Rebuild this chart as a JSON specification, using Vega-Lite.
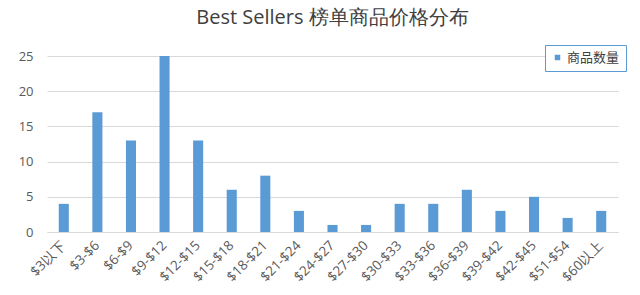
{
  "$schema": "https://vega.github.io/schema/vega-lite/v6.json",
  "autosize": "none",
  "width": 571,
  "height": 176,
  "padding": {"left": 47, "top": 56, "right": 22, "bottom": 63},
  "background": "white",
  "title": {
    "text": "Best Sellers 榜单商品价格分布",
    "anchor": "middle",
    "frame": "group",
    "offset": 17,
    "font": "Open Sans",
    "fontSize": 20,
    "fontWeight": "normal",
    "color": "#404040"
  },
  "data": {
    "values": [
      {"range": "$3以下", "count": 4},
      {"range": "$3-$6", "count": 17},
      {"range": "$6-$9", "count": 13},
      {"range": "$9-$12", "count": 25},
      {"range": "$12-$15", "count": 13},
      {"range": "$15-$18", "count": 6},
      {"range": "$18-$21", "count": 8},
      {"range": "$21-$24", "count": 3},
      {"range": "$24-$27", "count": 1},
      {"range": "$27-$30", "count": 1},
      {"range": "$30-$33", "count": 4},
      {"range": "$33-$36", "count": 4},
      {"range": "$36-$39", "count": 6},
      {"range": "$39-$42", "count": 3},
      {"range": "$42-$45", "count": 5},
      {"range": "$51-$54", "count": 2},
      {"range": "$60以上", "count": 3}
    ]
  },
  "mark": {"type": "bar", "color": "#5b9bd5"},
  "encoding": {
    "x": {
      "field": "range",
      "type": "nominal",
      "sort": null,
      "scale": {"paddingInner": 0.7, "paddingOuter": 0.35},
      "axis": {
        "title": null,
        "labelAngle": -45,
        "labelAlign": "right",
        "labelBaseline": "middle",
        "labelPadding": 11,
        "labelFont": "Open Sans",
        "labelFontSize": 13.5,
        "labelColor": "#595959",
        "ticks": false,
        "domainColor": "#d9d9d9",
        "domainWidth": 1,
        "grid": false
      }
    },
    "y": {
      "field": "count",
      "type": "quantitative",
      "scale": {"domain": [0, 25], "nice": false},
      "axis": {
        "title": null,
        "values": [0, 5, 10, 15, 20, 25],
        "domain": false,
        "ticks": false,
        "labelPadding": 14,
        "labelFont": "Open Sans",
        "labelFontSize": 13,
        "labelColor": "#595959",
        "gridColor": "#d9d9d9",
        "gridWidth": 1
      }
    },
    "fill": {
      "datum": "商品数量",
      "type": "nominal",
      "scale": {"range": ["#5b9bd5"]},
      "legend": {
        "title": null,
        "orient": "none",
        "legendX": 498,
        "legendY": -11,
        "strokeColor": "#5b9bd5",
        "fillColor": "white",
        "padding": 6,
        "symbolType": "square",
        "symbolSize": 30,
        "labelFont": "Noto Sans CJK SC",
        "labelFontSize": 13,
        "labelColor": "#404040",
        "labelOffset": 3
      }
    }
  },
  "config": {"view": {"stroke": null}}
}
